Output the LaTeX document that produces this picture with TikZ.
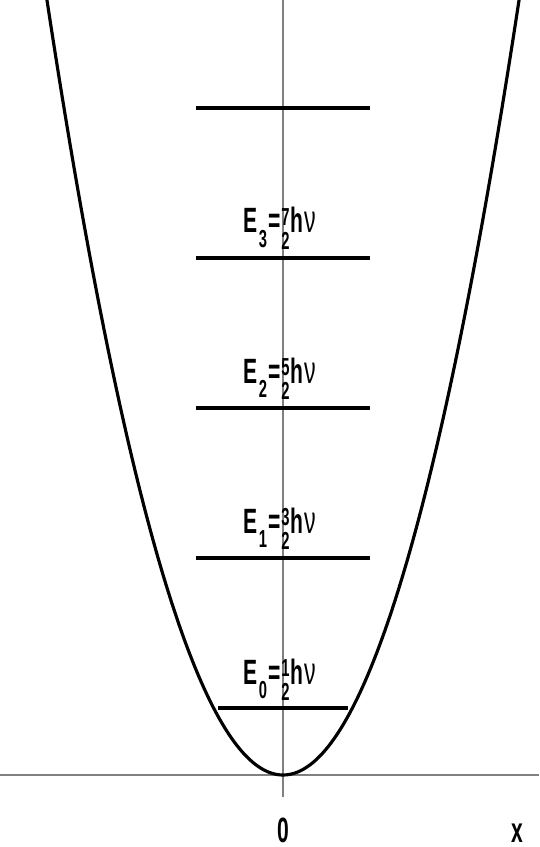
\documentclass[tikz,border=0pt]{standalone}
\usepackage{fontspec}
\setmainfont{Liberation Sans}
\usepackage{graphicx}
\usetikzlibrary{positioning}

\newcommand{\cond}[1]{\scalebox{0.6}[1]{\fontsize{20}{24}\selectfont\bfseries #1}}
\newcommand{\digit}[1]{{\fontsize{14}{14}\selectfont #1}}
\newcommand{\half}[1]{\makebox[0pt][l]{\raisebox{4.5pt}{\digit{#1}}}\raisebox{-9.6pt}{\digit{2}}}
\newcommand{\lev}[2]{\cond{E\kern1pt\raisebox{-8pt}{\digit{#1}}\kern1pt=\kern1pt\half{#2}\kern1pt h\kern1pt{\mdseries\fontsize{22}{24}\selectfont ν}}}

\tikzset{
  axisline/.style={gray, line width=0.9pt},
  levelline/.style={black, line width=2pt},
  potcurve/.style={black, line width=1.8pt},
  levlabel/.style={inner sep=0pt, anchor=base}
}

\begin{document}
\begin{tikzpicture}[x=0.02cm, y=-0.02cm]
        \useasboundingbox (0,0) rectangle (539,847);

        %assi
        \draw[axisline] (0,775) -- (539,775);
        \draw[axisline] (283,0) -- (283,797);
        \node (zero) at (283,842) [levlabel]{\cond{0}};
        \node (xlab) at (517,842) [levlabel]{\cond{x}};

        %parabola
        \begin{scope}
        \clip (0,0) rectangle (539,847);
        \draw[potcurve] plot[domain=-242:242, samples=161] ({283+\x},{775-(\x/10)*(\x/10)/0.719});
        \end{scope}

        %livelli di energia
        \draw[levelline] (218,708) -- (348,708);
        \node (E0) at (280,684) [levlabel]{\lev{0}{1}};
        \foreach \n/\y/\num in {1/558/3, 2/408/5, 3/258/7}{
            \draw[levelline] (196,\y) -- (370,\y);
            \node (E\n) at (280,\y-25) [levlabel]{\lev{\n}{\num}};
        }
        \draw[levelline] (196,108) -- (370,108);
\end{tikzpicture}
\end{document}
